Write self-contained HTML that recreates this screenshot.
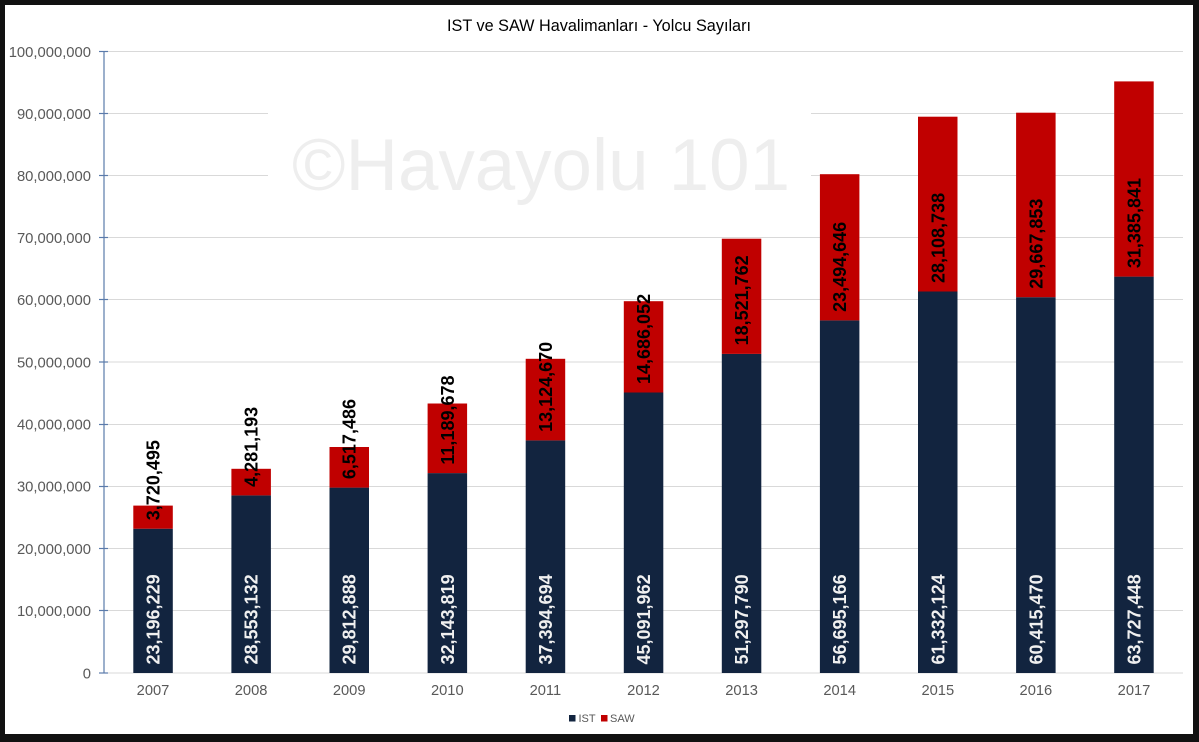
<!DOCTYPE html>
<html><head><meta charset="utf-8"><style>
html,body{margin:0;padding:0;background:#111;}
svg{display:block;}
text{font-family:"Liberation Sans",Arial,sans-serif;}
.yl{font-size:14.8px;fill:#595959;text-anchor:end;}
.xl{font-size:14.7px;fill:#595959;text-anchor:middle;}
.li{font-size:18px;font-weight:bold;fill:#f0f0f0;}
.ls{font-size:18px;font-weight:bold;fill:#000;}
.g{stroke:#d9d9d9;stroke-width:1;}
</style></head><body>
<svg width="1199" height="742" viewBox="0 0 1199 742" xmlns="http://www.w3.org/2000/svg">
<rect x="0" y="0" width="1199" height="742" fill="#111"/>
<rect x="5" y="5" width="1188" height="729" fill="#fff"/>
<text x="599" y="31" font-size="17" fill="#000" text-anchor="middle" textLength="304" lengthAdjust="spacingAndGlyphs">IST ve SAW Havalimanları - Yolcu Sayıları</text>
<g class="g">
<line x1="104" y1="51.5" x2="1183" y2="51.5"/>
<line x1="104" y1="113.5" x2="1183" y2="113.5"/>
<line x1="104" y1="175.5" x2="1183" y2="175.5"/>
<line x1="104" y1="237.5" x2="1183" y2="237.5"/>
<line x1="104" y1="299.5" x2="1183" y2="299.5"/>
<line x1="104" y1="362" x2="1183" y2="362"/>
<line x1="104" y1="424.5" x2="1183" y2="424.5"/>
<line x1="104" y1="486.5" x2="1183" y2="486.5"/>
<line x1="104" y1="548.5" x2="1183" y2="548.5"/>
<line x1="104" y1="610.5" x2="1183" y2="610.5"/>
<line x1="104" y1="673" x2="1183" y2="673"/>
</g>
<rect x="268" y="98" width="543" height="126" fill="#fff"/>
<text x="292" y="190" font-size="73" fill="#eeeeee" textLength="498" lengthAdjust="spacingAndGlyphs">©Havayolu 101</text>
<g stroke="#5b7bab" stroke-width="1.2">
<line x1="104" y1="51" x2="104" y2="673"/>
<line x1="99" y1="51.5" x2="108" y2="51.5"/>
<line x1="99" y1="113.5" x2="108" y2="113.5"/>
<line x1="99" y1="175.5" x2="108" y2="175.5"/>
<line x1="99" y1="237.5" x2="108" y2="237.5"/>
<line x1="99" y1="299.5" x2="108" y2="299.5"/>
<line x1="99" y1="362" x2="108" y2="362"/>
<line x1="99" y1="424.5" x2="108" y2="424.5"/>
<line x1="99" y1="486.5" x2="108" y2="486.5"/>
<line x1="99" y1="548.5" x2="108" y2="548.5"/>
<line x1="99" y1="610.5" x2="108" y2="610.5"/>
<line x1="99" y1="673" x2="108" y2="673"/>
</g>
<g class="yl">
<text x="91" y="57">100,000,000</text>
<text x="91" y="119">90,000,000</text>
<text x="91" y="181">80,000,000</text>
<text x="91" y="243">70,000,000</text>
<text x="91" y="305">60,000,000</text>
<text x="91" y="367.5">50,000,000</text>
<text x="91" y="429.5">40,000,000</text>
<text x="91" y="491.5">30,000,000</text>
<text x="91" y="554">20,000,000</text>
<text x="91" y="616">10,000,000</text>
<text x="91" y="678.5">0</text>
</g>
<!-- bars -->
<g fill="#12243f">
<rect x="133.3" y="528.7" width="39.5" height="144.3"/>
<rect x="231.4" y="495.4" width="39.5" height="177.6"/>
<rect x="329.5" y="487.6" width="39.5" height="185.4"/>
<rect x="427.6" y="473.1" width="39.5" height="199.9"/>
<rect x="525.7" y="440.4" width="39.5" height="232.6"/>
<rect x="623.8" y="392.5" width="39.5" height="280.5"/>
<rect x="721.8" y="353.9" width="39.5" height="319.1"/>
<rect x="819.9" y="320.4" width="39.5" height="352.6"/>
<rect x="918.0" y="291.5" width="39.5" height="381.5"/>
<rect x="1016.1" y="297.2" width="39.5" height="375.8"/>
<rect x="1114.2" y="276.6" width="39.5" height="396.4"/>
</g>
<g fill="#c00000">
<rect x="133.3" y="505.6" width="39.5" height="23.1"/>
<rect x="231.4" y="468.8" width="39.5" height="26.6"/>
<rect x="329.5" y="447.0" width="39.5" height="40.6"/>
<rect x="427.6" y="403.5" width="39.5" height="69.6"/>
<rect x="525.7" y="358.8" width="39.5" height="81.6"/>
<rect x="623.8" y="301.2" width="39.5" height="91.3"/>
<rect x="721.8" y="238.7" width="39.5" height="115.2"/>
<rect x="819.9" y="174.2" width="39.5" height="146.2"/>
<rect x="918.0" y="116.7" width="39.5" height="174.8"/>
<rect x="1016.1" y="112.7" width="39.5" height="184.5"/>
<rect x="1114.2" y="81.4" width="39.5" height="195.2"/>
</g>
<!-- IST labels -->
<g class="li">
<text transform="translate(159.5,664.5) rotate(-90)">23,196,229</text>
<text transform="translate(257.6,664.5) rotate(-90)">28,553,132</text>
<text transform="translate(355.7,664.5) rotate(-90)">29,812,888</text>
<text transform="translate(453.8,664.5) rotate(-90)">32,143,819</text>
<text transform="translate(551.9,664.5) rotate(-90)">37,394,694</text>
<text transform="translate(650.0,664.5) rotate(-90)">45,091,962</text>
<text transform="translate(748.1,664.5) rotate(-90)">51,297,790</text>
<text transform="translate(846.2,664.5) rotate(-90)">56,695,166</text>
<text transform="translate(944.3,664.5) rotate(-90)">61,332,124</text>
<text transform="translate(1042.4,664.5) rotate(-90)">60,415,470</text>
<text transform="translate(1140.5,664.5) rotate(-90)">63,727,448</text>
</g>
<!-- SAW labels -->
<g class="ls">
<text transform="translate(159.5,520.2) rotate(-90)">3,720,495</text>
<text transform="translate(257.6,486.9) rotate(-90)">4,281,193</text>
<text transform="translate(355.7,479.1) rotate(-90)">6,517,486</text>
<text transform="translate(453.8,464.6) rotate(-90)">11,189,678</text>
<text transform="translate(551.9,431.9) rotate(-90)">13,124,670</text>
<text transform="translate(650.0,384.0) rotate(-90)">14,686,052</text>
<text transform="translate(748.1,345.4) rotate(-90)">18,521,762</text>
<text transform="translate(846.2,311.9) rotate(-90)">23,494,646</text>
<text transform="translate(944.3,283.0) rotate(-90)">28,108,738</text>
<text transform="translate(1042.4,288.7) rotate(-90)">29,667,853</text>
<text transform="translate(1140.5,268.1) rotate(-90)">31,385,841</text>
</g>
<g class="xl">
<text x="153" y="695">2007</text>
<text x="251.1" y="695">2008</text>
<text x="349.2" y="695">2009</text>
<text x="447.3" y="695">2010</text>
<text x="545.4" y="695">2011</text>
<text x="643.5" y="695">2012</text>
<text x="741.6" y="695">2013</text>
<text x="839.7" y="695">2014</text>
<text x="937.8" y="695">2015</text>
<text x="1035.9" y="695">2016</text>
<text x="1134" y="695">2017</text>
</g>
<rect x="569" y="715" width="6.5" height="6.5" fill="#12243f"/>
<text x="578.5" y="722" font-size="11" fill="#595959">IST</text>
<rect x="601" y="715" width="6.5" height="6.5" fill="#c00000"/>
<text x="610" y="722" font-size="11" fill="#595959">SAW</text>
</svg>
</body></html>
